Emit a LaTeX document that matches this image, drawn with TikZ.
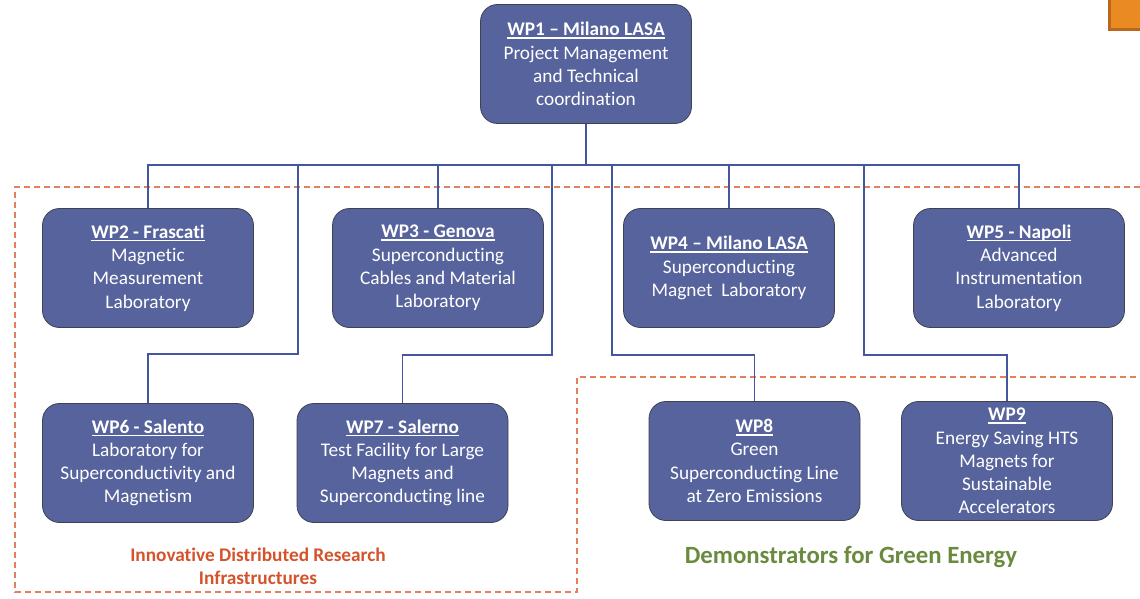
\documentclass[tikz,border=0pt]{standalone}
\usepackage{fontspec}
\setmainfont{Carlito}[Ligatures=NoCommon]
\definecolor{boxfill}{HTML}{56639C}
\definecolor{boxborder}{HTML}{3F4350}
\definecolor{conncol}{HTML}{4556A0}
\definecolor{dashcol}{HTML}{E5805F}
\definecolor{redlab}{HTML}{D4532B}
\definecolor{greenlab}{HTML}{6A8B3F}
\definecolor{orangeF}{HTML}{E98A23}
\definecolor{orangeD}{HTML}{B8671C}
\newcommand\wpul[1]{\setbox0=\hbox{\bfseries #1}\rlap{\rule[-2.8pt]{\wd0}{1.3pt}}\box0}
\tikzset{
  wpbox/.style={rectangle, rounded corners=17pt, draw=boxborder, line width=0.8pt,
    fill=boxfill, text=white, align=center, inner sep=0pt,
    minimum width=211pt, minimum height=119pt,
    font=\fontsize{19.3}{23.2}\selectfont},
  conn/.style={draw=conncol, line width=1.6pt},
  grp/.style={draw=dashcol, line width=1.4pt, dash pattern=on 6pt off 4pt},
}
\begin{document}
\begin{tikzpicture}[x=1pt,y=-1pt]
\useasboundingbox (0,0) rectangle (1140,599);
% group outlines
\draw[grp] (1140,187) -- (15,187) -- (15,592) -- (577,592) -- (577,377) -- (1140,377);
% top-right orange corner shape
\fill[orangeF] (1108,0) rectangle (1140,31);
\draw[orangeD, line width=3pt] (1109.5,0) -- (1109.5,29.5) -- (1140,29.5);
% nodes
\node[wpbox] (wp1) at (586,64) {\wpul{WP1 – Milano LASA}\\Project Management\\and Technical\\coordination};
\node[wpbox] (wp2) at (148,268) {\wpul{WP2 - Frascati}\\Magnetic\\Measurement\\Laboratory};
\node[wpbox] (wp3) at (438,268) {\wpul{WP3 - Genova}\\Superconducting\\Cables and Material\\Laboratory};
\node[wpbox] (wp4) at (729,268) {\wpul{WP4 – Milano LASA}\\Superconducting\\Magnet\ \ Laboratory};
\node[wpbox] (wp5) at (1019,268) {\wpul{WP5 - Napoli}\\Advanced\\Instrumentation\\Laboratory};
\node[wpbox] (wp6) at (148,463) {\wpul{WP6 - Salento}\\Laboratory for\\Superconductivity and\\Magnetism};
\node[wpbox] (wp7) at (402.5,463) {\wpul{WP7 - Salerno}\\Test Facility for Large\\Magnets and\\Superconducting line};
\node[wpbox] (wp8) at (754.5,461) {\wpul{WP8}\\Green\\Superconducting Line\\at Zero Emissions};
\node[wpbox] (wp9) at (1007,461) {\wpul{WP9}\\Energy Saving HTS\\Magnets for\\Sustainable\\Accelerators};
% junctions
\coordinate (bus) at (586,165);
\coordinate (j6) at (298,354);
\coordinate (j7) at (552,355);
\coordinate (j8) at (612,355);
\coordinate (j9) at (864,355);
% connectors
\draw[conn] (wp1.south) -- (wp1.south |- bus);
\draw[conn] (wp2.north) |- (wp5.north |- bus) -- (wp5.north);
\draw[conn] (wp3.north) -- (wp3.north |- bus);
\draw[conn] (wp4.north) -- (wp4.north |- bus);
\draw[conn] (wp6.north) |- (j6) -- (j6 |- bus);
\draw[conn] (wp7.north) |- (j7) -- (j7 |- bus);
\draw[conn] (wp8.north) |- (j8) -- (j8 |- bus);
\draw[conn] (wp9.north) |- (j9) -- (j9 |- bus);
% group labels
\node[text=redlab, font=\bfseries\fontsize{19.3}{23}\selectfont, align=center] (lab1) at (258,566) {Innovative Distributed Research\\Infrastructures};
\node[text=greenlab, font=\bfseries\fontsize{24.8}{28}\selectfont] (lab2) at (851,557) {Demonstrators for Green Energy};
\end{tikzpicture}
\end{document}
